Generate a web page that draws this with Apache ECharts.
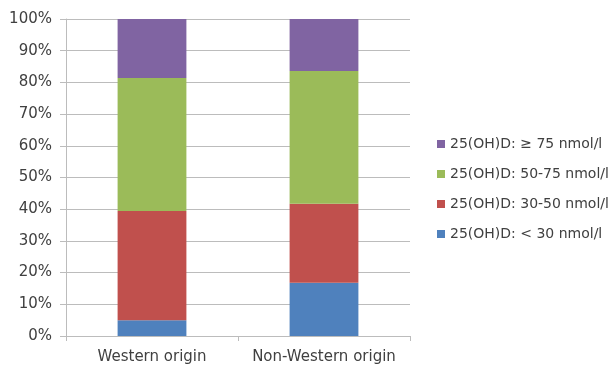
<!DOCTYPE html>
<html>
<head>
<meta charset="utf-8">
<script src="https://cdn.jsdelivr.net/npm/echarts@6/dist/echarts.min.js"></script>
<style>
  html, body { margin: 0; padding: 0; background: #fff; }
  #chart { width: 615px; height: 368px; }
</style>
</head>
<body>
<div id="chart"></div>
<script>
// Groups on the x axis
const categories = ['Western origin', 'Non-Western origin'];

// Share of each 25(OH)D level per group, in percent
const below30 = [5.0, 16.8];
const from30to50 = [34.4, 24.9];
const from50to75 = [42.0, 41.9];
const above75 = [18.6, 16.4];

const seriesNames = [
  '25(OH)D: < 30 nmol/l',
  '25(OH)D: 30-50 nmol/l',
  '25(OH)D: 50-75 nmol/l',
  '25(OH)D: \u2265 75 nmol/l'
];
const seriesColors = ['#4f81bd', '#c0504d', '#9bbb59', '#8064a2'];
const seriesValues = [below30, from30to50, from50to75, above75];

const fontFamily = 'DejaVu Sans, sans-serif';
const textColor = '#404040';
const gridColor = '#bcbcbc';

const chart = echarts.init(document.getElementById('chart'), null, { renderer: 'canvas' });

chart.setOption({
  animation: false,
  grid: { left: 66, right: 205, top: 19, bottom: 32, containLabel: false },
  legend: {
    orient: 'vertical',
    left: 432,
    top: 131,
    itemWidth: 8,
    itemHeight: 8,
    itemGap: 14,
    icon: 'rect',
    data: seriesNames.slice().reverse(),
    textStyle: { fontFamily: fontFamily, fontSize: 14, lineHeight: 16, color: textColor }
  },
  xAxis: {
    type: 'category',
    data: categories,
    axisLine: { lineStyle: { color: gridColor, width: 1 } },
    axisTick: { show: true, alignWithLabel: false, length: 5, lineStyle: { color: gridColor } },
    axisLabel: { interval: 0, fontFamily: fontFamily, fontSize: 15, color: textColor, margin: 14 }
  },
  yAxis: {
    type: 'value',
    min: 0,
    max: 100,
    interval: 10,
    axisLine: { show: true, lineStyle: { color: gridColor, width: 1 } },
    axisTick: { show: true, length: 6, lineStyle: { color: gridColor } },
    splitLine: { lineStyle: { color: gridColor, width: 1 } },
    axisLabel: {
      fontFamily: fontFamily, fontSize: 15, color: textColor, margin: 14,
      formatter: v => v + '%'
    }
  },
  series: seriesValues.map((vals, i) => ({
    name: seriesNames[i],
    type: 'bar',
    stack: 'total',
    barWidth: '40%',
    data: vals,
    itemStyle: { color: seriesColors[i] }
  }))
});
</script>
</body>
</html>
